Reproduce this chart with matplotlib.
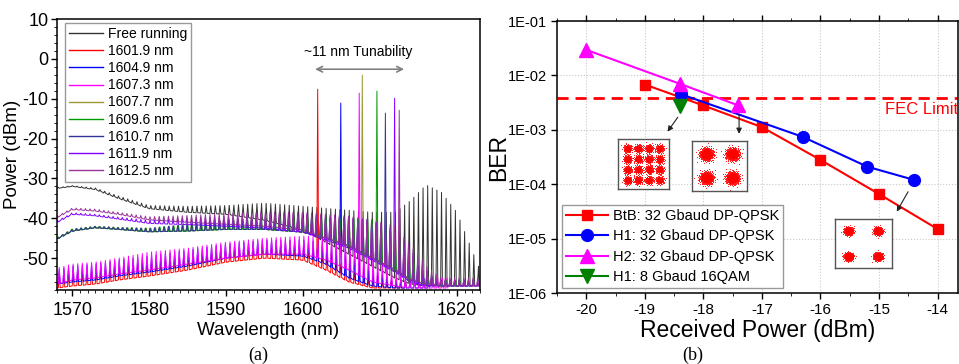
import numpy as np
import matplotlib
matplotlib.use('Agg')
import matplotlib.pyplot as plt
from matplotlib.ticker import MultipleLocator, FuncFormatter, NullLocator

plt.rcParams['font.family'] = ['Liberation Sans', 'DejaVu Sans']
plt.rcParams['axes.unicode_minus'] = False

# ---------------- (a) spectra: envelopes ----------------
WL_KNOTS = [1568, 1570, 1573, 1576, 1580, 1585, 1590, 1595, 1600, 1603,
            1606, 1609, 1612, 1614, 1616, 1618, 1620, 1623]
COMB_SPACING = 0.6

free_floor = [-32.5, -32.0, -32.8, -35.0, -37.6, -38.5, -39.0, -40.5, -43.0, -46.0,
              -49.0, -52.0, -55.0, -56.5, -57.0, -57.0, -57.0, -57.0]
free_peak = [-32.3, -31.8, -32.4, -34.4, -36.8, -37.0, -36.8, -36.2, -37.0, -37.5,
             -38.0, -38.5, -38.5, -35.5, -31.6, -33.5, -38.5, -53.0]

upper_floor = [-39.8, -37.8, -38.2, -39.0, -40.4, -41.0, -41.5, -42.0, -43.0, -45.0,
               -47.0, -50.0, -53.0, -55.5, -56.5, -57.0, -57.0, -57.0]
upper_peak = [-39.5, -37.4, -37.7, -38.5, -39.6, -39.3, -38.8, -38.5, -38.5, -39.0,
              -39.5, -40.5, -42.0, -47.0, -52.0, -55.0, -55.0, -55.0]
violet_floor = [-41.0, -39.0, -39.4, -40.2, -41.3, -41.6, -42.0, -42.5, -43.5, -45.5,
                -47.5, -50.5, -53.5, -56.0, -57.0, -57.0, -57.0, -57.0]
violet_peak = [-40.7, -38.6, -39.0, -39.7, -40.5, -40.0, -39.5, -39.0, -39.0, -39.5,
               -40.0, -41.0, -43.0, -48.0, -53.0, -55.5, -55.5, -55.5]
mid_floor = [-45.2, -43.2, -42.4, -42.8, -43.4, -43.2, -42.8, -42.8, -43.5, -45.0,
             -47.0, -50.0, -53.0, -55.5, -56.5, -57.0, -57.0, -57.0]
mid_peak = [-44.9, -42.7, -42.0, -42.3, -42.5, -41.5, -40.5, -40.0, -40.0, -40.0,
            -40.0, -40.5, -44.0, -50.0, -54.0, -55.5, -55.5, -55.5]
red_floor = [-57.5, -57.0, -56.5, -55.5, -54.5, -53.0, -51.0, -50.0, -50.5, -53.0,
             -56.0, -57.5, -57.5, -57.5, -57.5, -57.5, -57.5, -57.5]
red_peak = [-54.0, -53.5, -53.0, -52.0, -51.0, -49.5, -48.0, -47.2, -47.5, -48.5,
            -53.0, -55.5, -55.5, -55.5, -55.0, -55.0, -55.0, -55.0]
blue_floor = [-56.5, -56.0, -55.5, -54.5, -53.5, -52.0, -50.0, -49.0, -49.5, -51.5,
              -55.0, -57.0, -57.5, -57.5, -57.5, -57.5, -57.5, -57.5]
blue_peak = [-53.0, -52.0, -51.5, -50.5, -49.5, -48.0, -46.5, -45.5, -45.5, -46.0,
             -48.0, -53.0, -55.5, -55.5, -55.0, -55.0, -55.0, -55.0]
mag_floor = [-56.5, -55.5, -55.0, -54.0, -53.0, -51.5, -50.0, -49.0, -49.0, -50.5,
             -53.0, -56.0, -57.0, -57.5, -57.5, -57.5, -57.5, -57.5]
mag_peak = [-52.5, -51.5, -51.0, -50.0, -48.5, -47.5, -46.0, -45.0, -44.5, -44.5,
            -45.0, -49.0, -54.0, -55.5, -55.0, -55.0, -55.0, -55.0]

labels = ['Free running', '1601.9 nm', '1604.9 nm', '1607.3 nm', '1607.7 nm',
          '1609.6 nm', '1610.7 nm', '1611.9 nm', '1612.5 nm']
inj_wl = [1615.0, 1601.9, 1604.9, 1607.3, 1607.7, 1609.6, 1610.7, 1611.9, 1612.5]
inj_peak = [None, -7.6, -11.1, -8.6, -4.1, -8.1, -13.6, -9.9, -12.9]
colors = ['#333333', '#ff0000', '#0000ff', '#ff00ff', '#999933',
          '#009900', '#333399', '#8000ff', '#993399']
floors = [free_floor, red_floor, blue_floor, mag_floor, mid_floor, mid_floor,
          mid_floor, violet_floor, upper_floor]
peaks = [free_peak, red_peak, blue_peak, mag_peak, mid_peak, mid_peak,
         mid_peak, violet_peak, upper_peak]

# ---------------- (b) BER curves ----------------
btb_power = [-19, -18, -17, -16, -15, -14]
btb_ber = [6.8e-3, 2.8e-3, 1.12e-3, 2.8e-4, 6.6e-5, 1.5e-5]
h1_power = [-18.38, -16.3, -15.2, -14.4]
h1_ber = [4.5e-3, 7.4e-4, 2.1e-4, 1.2e-4]
h2_power = [-20, -18.4, -17.4]
h2_ber = [2.95e-2, 7.0e-3, 2.8e-3]
qam_power = [-18.4]
qam_ber = [2.7e-3]
FEC_LIMIT = 3.8e-3


def comb_trace(inj, peak_inj, floor, peak):
    centers = inj + COMB_SPACING * np.arange(-90, 20)
    centers = centers[(centers > 1566.5) & (centers < 1624.5)]
    fl = np.interp(centers, WL_KNOTS, floor)
    pk = np.interp(centers, WL_KNOTS, peak)
    if peak_inj is not None:
        pk[np.argmin(np.abs(centers - inj))] = peak_inj
    x = np.column_stack([centers - 0.12, centers, centers + 0.12]).ravel()
    y = np.column_stack([fl, pk, fl]).ravel()
    return x, y


def cloud(ax, levels, sigma, n):
    i = np.arange(n)
    r = sigma * np.sqrt(-2 * np.log(1 - (i + 0.5) / n))
    k = 0
    for cx in levels:
        for cy in levels:
            th = i * 2.39996 + k * 0.7
            ax.scatter(cx + r * np.cos(th), cy + r * np.sin(th), s=0.6,
                       color='red', linewidths=0)
            k += 1


fig = plt.figure(figsize=(9.59, 3.64), dpi=100)

# ---- panel (a)
ax1 = fig.add_axes([0.0594, 0.2033, 0.4411, 0.7445])
for lab, wl, pk_inj, col, fl, pk in zip(labels, inj_wl, inj_peak, colors, floors, peaks):
    x, y = comb_trace(wl, pk_inj, fl, pk)
    ax1.plot(x, y, color=col, lw=0.7, label=lab)
ax1.set_xlim(1568, 1623)
ax1.set_ylim(-58, 10)
ax1.xaxis.set_major_locator(MultipleLocator(10))
ax1.xaxis.set_minor_locator(MultipleLocator(1))
ax1.yaxis.set_major_locator(MultipleLocator(10))
ax1.yaxis.set_minor_locator(MultipleLocator(2))
ax1.tick_params(labelsize=13, width=1, length=4, pad=2)
ax1.tick_params(axis='x', pad=5)
ax1.tick_params(which='minor', length=2.5)
ax1.set_xlabel('Wavelength (nm)', fontsize=13.5, labelpad=2)
ax1.set_ylabel('Power (dBm)', fontsize=13.5, labelpad=1)
for s in ax1.spines.values():
    s.set_linewidth(1.1)
leg1 = ax1.legend(loc='upper left', bbox_to_anchor=(0.019, 0.985), borderaxespad=0,
                  fontsize=10, handlelength=2.4, labelspacing=0.22, handletextpad=0.4,
                  fancybox=False, edgecolor='#999999', framealpha=1, borderpad=0.3)
for h in leg1.get_lines():
    h.set_linewidth(1.0)
ax1.annotate('', xy=(1601.2, -2.6), xytext=(1613.5, -2.6),
             arrowprops=dict(arrowstyle='<->', color='#808080', lw=1.2))
ax1.text(1607.1, 1.7, '~11 nm Tunability', ha='center', va='center', fontsize=10)

# ---- panel (b)
ax2 = fig.add_axes([0.5808, 0.195, 0.4182, 0.7473])
ax2.set_yscale('log')
ax2.grid(True, which='major', ls=':', color='#c8c8c8', lw=0.8)
ax2.axhline(FEC_LIMIT, color='red', ls=(0, (4, 2.5)), lw=2)
ax2.plot(btb_power, btb_ber, '-s', color='red', ms=7.5, lw=1.5, label='BtB: 32 Gbaud DP-QPSK')
ax2.plot(h1_power, h1_ber, '-o', color='blue', ms=8.5, lw=1.5, label='H1: 32 Gbaud DP-QPSK')
ax2.plot(h2_power, h2_ber, '-^', color='#ff00ff', ms=9.5, lw=1.5, label='H2: 32 Gbaud DP-QPSK')
ax2.plot(qam_power, qam_ber, '-v', color='green', ms=9.5, lw=1.5, label='H1: 8 Gbaud 16QAM')
ax2.set_xlim(-20.5, -13.65)
ax2.set_ylim(1e-6, 1e-1)
ax2.xaxis.set_major_locator(MultipleLocator(1))
ax2.xaxis.set_minor_locator(MultipleLocator(0.5))
ax2.yaxis.set_minor_locator(NullLocator())
ax2.yaxis.set_major_formatter(FuncFormatter(lambda v, p: '1E-%02d' % round(-np.log10(v))))
ax2.tick_params(labelsize=11, width=1, length=4)
ax2.tick_params(axis='y', labelsize=10.5)
ax2.tick_params(which='minor', length=2.5)
ax2.tick_params(which='both', top=True)
ax2.set_xlabel('Received Power (dBm)', fontsize=16.5, labelpad=1)
ax2.set_ylabel('BER', fontsize=16.5, labelpad=-2)
for s in ax2.spines.values():
    s.set_linewidth(1.1)
ax2.text(-14.89, 2.34e-3, 'FEC Limit', color='red', fontsize=12, va='center', clip_on=False)
leg2 = ax2.legend(loc='lower left', bbox_to_anchor=(0.012, 0.018), borderaxespad=0,
                  fontsize=10.5, handlelength=2.9, labelspacing=0.42, handletextpad=0.3,
                  fancybox=False, edgecolor='#999999', framealpha=1, borderpad=0.3)

arrow = dict(arrowstyle='-|>', color='#222222', lw=0.8, mutation_scale=8)
ax2.annotate('', xy=(-18.64, 8.4e-4), xytext=(-18.41, 1.87e-3), arrowprops=arrow)
ax2.annotate('', xy=(-17.39, 7.5e-4), xytext=(-17.39, 2.15e-3), arrowprops=arrow)
ax2.annotate('', xy=(-14.72, 2.83e-5), xytext=(-14.48, 8.05e-5), arrowprops=arrow)

# constellation insets
inset_specs = [([0.6447, 0.48, 0.0529, 0.1374], [-3, -1, 1, 3], 0.4, 140, 4.75),
               ([0.7219, 0.4753, 0.0567, 0.1374], [-1, 1], 0.27, 450, 2.1),
               ([0.8707, 0.2629, 0.0591, 0.1354], [-1, 1], 0.15, 400, 1.92)]
for rect, lv, sig, n, lim in inset_specs:
    ins = fig.add_axes(rect)
    cloud(ins, lv, sig, n)
    ins.set_xlim(-lim, lim)
    ins.set_ylim(-lim, lim)
    ins.set_xticks([])
    ins.set_yticks([])
    for s in ins.spines.values():
        s.set_color('#555555')
        s.set_linewidth(1)

fig.text(0.269, 0.025, '(a)', family=['Liberation Serif', 'DejaVu Serif'], fontsize=13,
         ha='center', va='center')
fig.text(0.7226, 0.025, '(b)', family=['Liberation Serif', 'DejaVu Serif'], fontsize=13,
         ha='center', va='center')

fig.savefig('out.png', dpi=100)
